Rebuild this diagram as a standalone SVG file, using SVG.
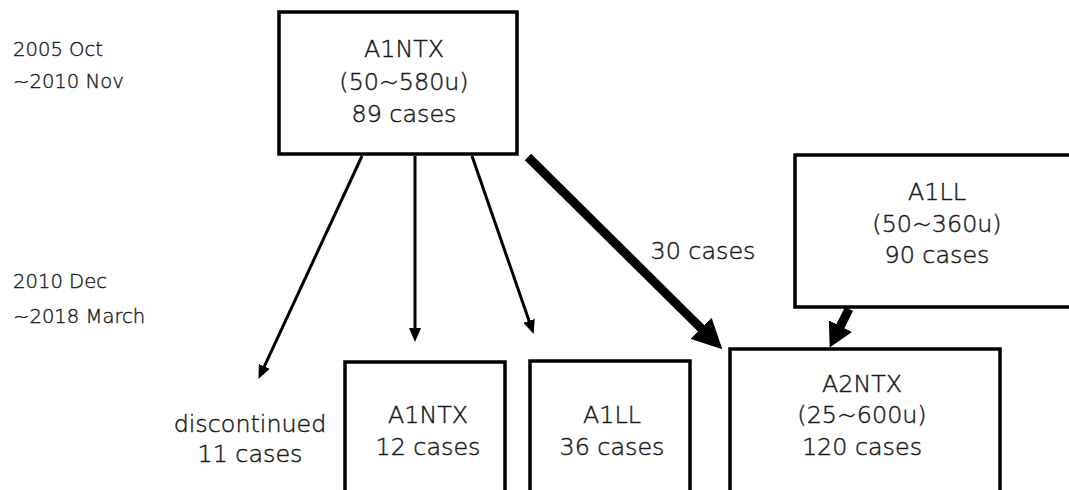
<svg xmlns="http://www.w3.org/2000/svg" width="1069" height="490" viewBox="0 0 1069 490">
<style>
.box{fill:#fff;stroke:#000;stroke-width:3.5}
.t{font-family:"DejaVu Sans","Noto Sans CJK JP",sans-serif;font-size:23.8px;fill:#1a1a1a;stroke:#1a1a1a;stroke-width:0.45;text-anchor:middle;font-weight:200}
.lab{font-family:"DejaVu Sans","Noto Sans CJK JP",sans-serif;font-size:19.6px;fill:#1a1a1a;stroke:#1a1a1a;stroke-width:0.4;font-weight:200}
.thin{stroke:#000;stroke-width:3;fill:none}
.thick{stroke:#000;stroke-width:9;fill:none}
</style>
<defs>
<marker id="ah" viewBox="0 0 14 12" refX="1" refY="6" markerWidth="14" markerHeight="12" markerUnits="userSpaceOnUse" orient="auto"><path d="M0,0 L14,6 L0,12 z" fill="#000"/></marker>
<marker id="ahb" viewBox="0 0 30 30" refX="1" refY="15" markerWidth="30" markerHeight="30" markerUnits="userSpaceOnUse" orient="auto"><path d="M0,0 L30,15 L0,30 z" fill="#000"/></marker>
<marker id="ahc" viewBox="0 0 24 26" refX="1" refY="13" markerWidth="24" markerHeight="26" markerUnits="userSpaceOnUse" orient="auto"><path d="M0,0 L24,13 L0,26 z" fill="#000"/></marker>
</defs>
<g id="period1"><text class="lab" x="13" y="56">2005 Oct</text><text class="lab" x="13" y="88">~2010 Nov</text></g>
<g id="period2"><text class="lab" x="13" y="288">2010 Dec</text><text class="lab" x="13" y="323">~2018 March</text></g>
<g id="connectors">
<path class="thin" d="M362,156 L263.9,367.3" marker-end="url(#ah)"/>
<path class="thin" d="M415,156 L415,329" marker-end="url(#ah)"/>
<path class="thin" d="M472,156 L529.4,321.8" marker-end="url(#ah)"/>
<path class="thick" d="M528,157 L701.7,328.9" marker-end="url(#ahb)"/>
<path class="thick" d="M849,309 L840,327" marker-end="url(#ahc)"/>
<text class="t" x="703" y="259">30 cases</text>
</g>
<g id="n_a1ntx_top"><rect class="box" x="279" y="12" width="238" height="142"/>
<text class="t" x="404" y="57">A1NTX</text><text class="t" x="404" y="90">(50~580u)</text><text class="t" x="404" y="122">89 cases</text></g>
<g id="n_a1ll_top"><rect class="box" x="795" y="155" width="290" height="152"/>
<text class="t" x="937" y="200">A1LL</text><text class="t" x="937" y="232">(50~360u)</text><text class="t" x="937" y="263">90 cases</text></g>
<g id="n_discontinued"><text class="t" x="250" y="432">discontinued</text><text class="t" x="250" y="462">11 cases</text></g>
<g id="n_a1ntx_bot"><rect class="box" x="345" y="362" width="160" height="150"/>
<text class="t" x="428" y="423">A1NTX</text><text class="t" x="428" y="455">12 cases</text></g>
<g id="n_a1ll_bot"><rect class="box" x="530" y="361" width="160" height="150"/>
<text class="t" x="612" y="423">A1LL</text><text class="t" x="612" y="455">36 cases</text></g>
<g id="n_a2ntx"><rect class="box" x="730" y="349" width="270" height="160"/>
<text class="t" x="862" y="392">A2NTX</text><text class="t" x="862" y="423">(25~600u)</text><text class="t" x="862" y="455">120 cases</text></g>
</svg>
